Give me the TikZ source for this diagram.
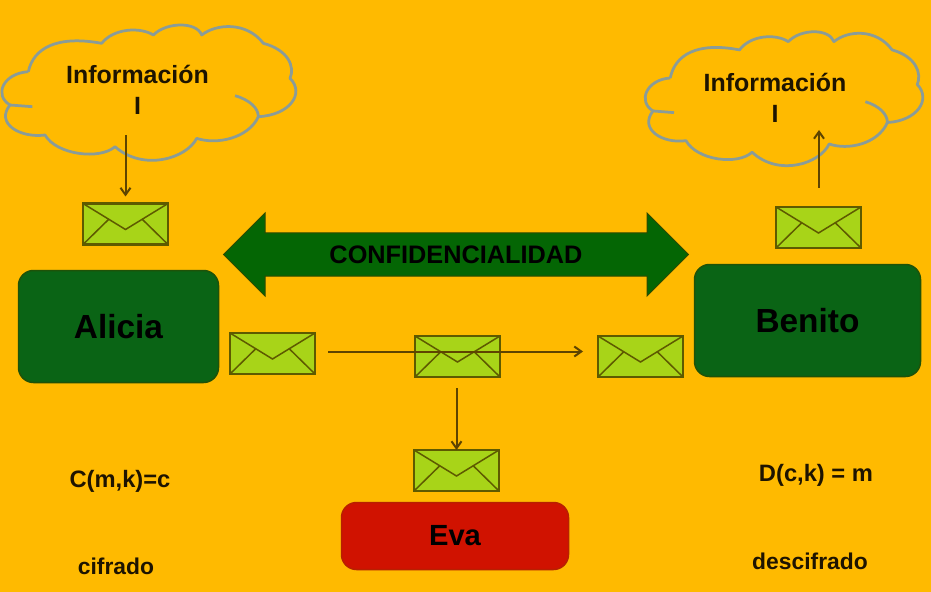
\documentclass[tikz,border=0pt]{standalone}
\usepackage{fontspec}
\setmainfont{Liberation Sans}
\usetikzlibrary{shapes.arrows, arrows.meta, positioning}
\definecolor{backdrop}{HTML}{FFBA00}
\definecolor{boxgreen}{HTML}{0A6415}
\definecolor{boxgreenedge}{HTML}{1F5208}
\definecolor{bannergreen}{HTML}{046604}
\definecolor{banneredge}{HTML}{2F4A00}
\definecolor{boxred}{HTML}{D01200}
\definecolor{boxrededge}{HTML}{B82000}
\definecolor{envfill}{HTML}{A8D418}
\definecolor{envedge}{HTML}{5E5A00}
\definecolor{inkbrown}{HTML}{5E4400}
\definecolor{cloudedge}{HTML}{8A9C98}
\definecolor{ink}{HTML}{1E1400}
\tikzset{
    person/.style={rectangle, rounded corners=0.3cm, align=center, outer sep=0pt, line width=0.03cm, text=black, font=\bfseries\fontsize{19}{23}\selectfont},
    caption/.style={align=center, text=ink, font=\bfseries\fontsize{13}{16}\selectfont},
    infotext/.style={align=center, text=ink, font=\bfseries\fontsize{14.2}{17.6}\selectfont},
    envelope/.style={rectangle, draw=envedge, line width=0.05cm, fill=envfill, minimum width=1.7cm, minimum height=0.82cm, inner sep=0pt, outer sep=0pt,
        path picture={
            \begin{scope}[shift={(path picture bounding box.center)}]
                \draw[envedge, line width=0.03cm] (-0.85,0.41) -- (0,-0.11) -- (0.85,0.41);
                \draw[envedge, line width=0.03cm] (-0.85,-0.41) -- (-0.34,0.09);
                \draw[envedge, line width=0.03cm] (0.85,-0.41) -- (0.34,0.09);
            \end{scope}
        }},
    message/.style={draw=inkbrown, line width=0.04cm, -{Straight Barb[length=0.14cm, width=0.2cm]}},
    infocloud/.pic={
        \begin{scope}[x=0.00667cm, y=-0.00667cm]
            \draw[cloudedge, line width=0.055cm, line join=round]
                (85,215) .. controls (100,145) and (170,105) .. (305,130)
                .. controls (340,85) and (420,80) .. (460,105)
                .. controls (500,65) and (590,65) .. (605,105)
                .. controls (650,70) and (740,65) .. (790,130)
                .. controls (865,150) and (885,200) .. (870,235)
                .. controls (915,280) and (870,345) .. (775,350)
                .. controls (745,415) and (650,435) .. (590,415)
                .. controls (560,475) and (430,515) .. (345,440)
                .. controls (300,480) and (170,465) .. (135,405)
                .. controls (60,415) and (-15,370) .. (30,315)
                .. controls (-20,285) and (10,220) .. (85,215);
            \draw[cloudedge, line width=0.055cm] (30,315) -- (97,320);
            \draw[cloudedge, line width=0.055cm] (705,287) .. controls (750,300) and (775,325) .. (775,350);
        \end{scope}
    }
}
\begin{document}
\begin{tikzpicture}
    \useasboundingbox (0,0) rectangle (18.62,-11.84);
    \fill[backdrop] (0,0) rectangle (18.62,-11.84);

    \pic at (0,0) {infocloud};
    \pic[xscale=0.944, yscale=0.99] at (12.87,-0.14) {infocloud};
    \node[infotext] (infoA) at (2.75,-1.8) {Información\\I};
    \node[infotext] (infoB) at (15.5,-1.95) {Información\\I};
    \coordinate (cloudA) at (2.51,-2.7);
    \coordinate (cloudB) at (16.38,-2.6);

    \node[person, fill=boxgreen, draw=boxgreenedge, minimum width=4cm, minimum height=2.24cm] (alicia) at (2.37,-6.53) {Alicia};
    \node[person, fill=boxgreen, draw=boxgreenedge, minimum width=4.52cm, minimum height=2.24cm] (benito) at (16.15,-6.41) {Benito};
    \node[person, fill=boxred, draw=boxrededge, minimum width=4.54cm, minimum height=1.34cm, font=\bfseries\fontsize{16.6}{20}\selectfont] (eva) at (9.1,-10.72) {Eva};

    \node[double arrow, fill=bannergreen, draw=banneredge, line width=0.02cm, text=black, font=\bfseries\fontsize{14.4}{17}\selectfont,
        double arrow head extend=0.4cm, minimum height=9.3cm, inner xsep=0pt, inner ysep=0pt,
        text height=0.6cm, text depth=0.24cm] (banner) at (9.12,-5.09) {CONFIDENCIALIDAD};

    \node[envelope, above=0.52cm of alicia, xshift=0.14cm] (envTopA) {};
    \node[envelope, above=0.33cm of benito, xshift=0.22cm] (envTopB) {};
    \node[envelope, right=0.23cm of alicia, yshift=-0.54cm] (envSend) {};
    \node[envelope, right=2cm of envSend, yshift=-0.06cm] (envMid) {};
    \node[envelope, left=0.23cm of benito, yshift=-0.72cm] (envRecv) {};
    \node[envelope, above=0.23cm of eva, xshift=0.03cm] (envEva) {};

    \node[caption, font=\bfseries\fontsize{13.5}{16}\selectfont] (cifra) at (2.4,-9.62) {C(m,k)=c};
    \node[caption] (cifrado) at (2.32,-11.32) {cifrado};
    \node[caption, font=\bfseries\fontsize{13.5}{16}\selectfont] (descifra) at (16.32,-9.5) {D(c,k) = m};
    \node[caption] (descifrado) at (16.2,-11.22) {descifrado};

    \draw[message, shorten >=0.14cm] (cloudA) -- (cloudA |- envTopA.north);
    \draw[message, shorten <=0.38cm] (cloudB |- envTopB.north) -- (cloudB);
    \draw[message] ([xshift=0.26cm, yshift=0.04cm]envSend.east) -- ([xshift=-0.3cm, yshift=0.1cm]envRecv.west);
    \draw[message, shorten <=0.22cm] (envMid.south -| envEva.north) -- (envEva.north);
\end{tikzpicture}
\end{document}
